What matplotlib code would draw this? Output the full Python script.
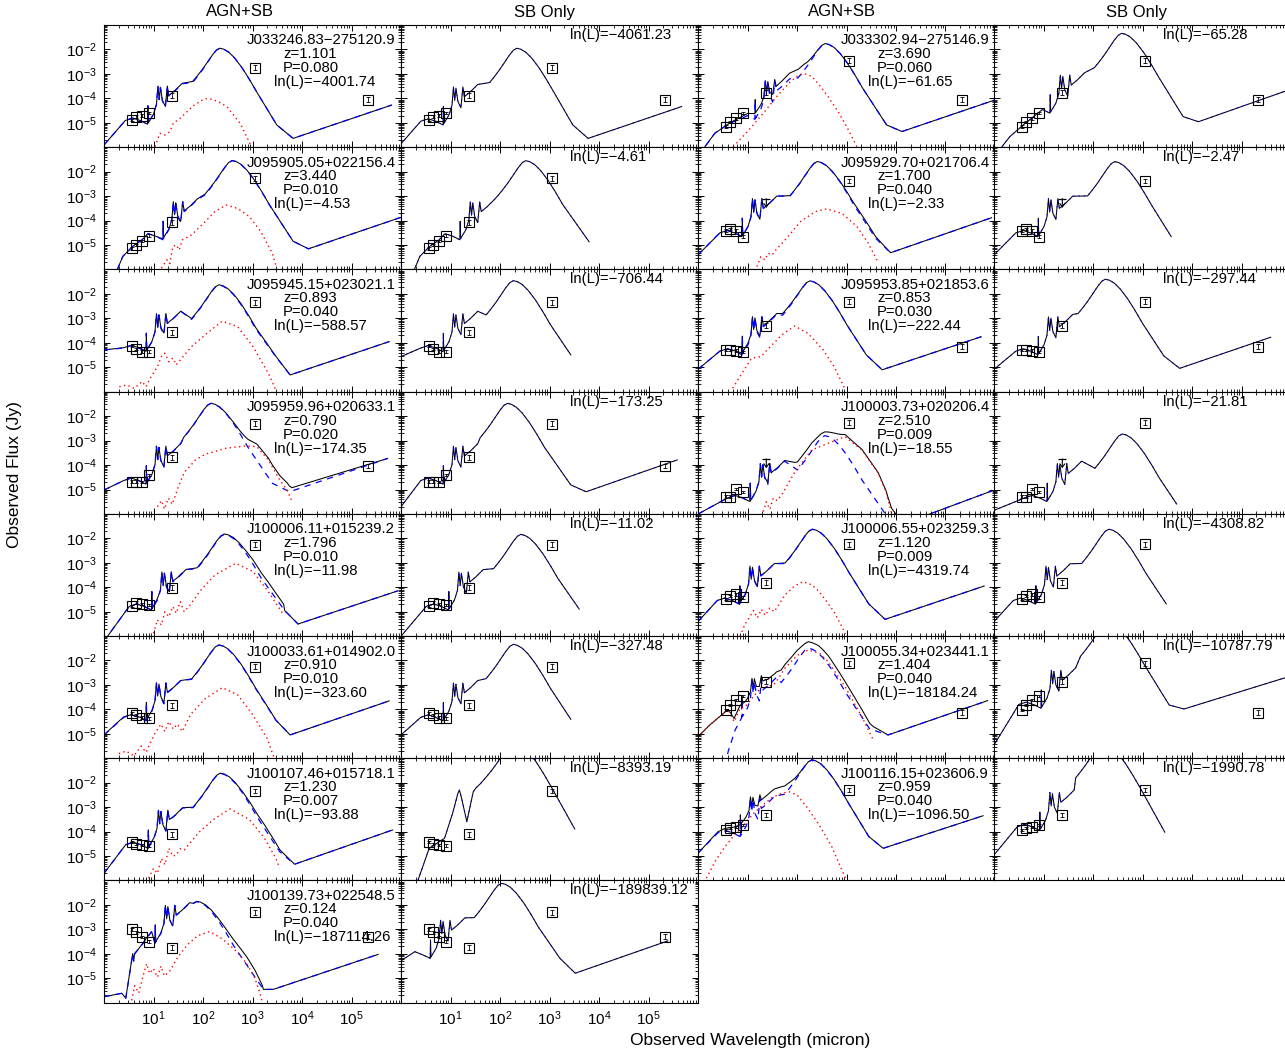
import numpy as np
import matplotlib.pyplot as plt
from matplotlib.ticker import FixedLocator, LogLocator

plt.rcParams['font.family'] = ['Liberation Sans', 'DejaVu Sans']
plt.rcParams['mathtext.fontset'] = 'custom'
plt.rcParams['mathtext.rm'] = 'Liberation Sans'
plt.rcParams['axes.linewidth'] = 0.8

# sources, in panel order (left pair of columns row by row, then right pair)
NAMES = ["J033246.83−275120.9", "J033302.94−275146.9", "J095905.05+022156.4",
         "J095929.70+021706.4", "J095945.15+023021.1", "J095953.85+021853.6",
         "J095959.96+020633.1", "J100003.73+020206.4", "J100006.11+015239.2",
         "J100006.55+023259.3", "J100033.61+014902.0", "J100055.34+023441.1",
         "J100107.46+015718.1", "J100116.15+023606.9", "J100139.73+022548.5"]
Z = [1.101, 3.690, 3.440, 1.700, 0.893, 0.853, 0.790, 2.510,
     1.796, 1.120, 0.910, 1.404, 1.230, 0.959, 0.124]
PROB = [0.080, 0.060, 0.010, 0.040, 0.040, 0.030, 0.020, 0.009,
        0.010, 0.009, 0.010, 0.040, 0.007, 0.040, 0.040]
LNL_AGN = [-4001.74, -61.65, -4.53, -2.33, -588.57, -222.44, -174.35, -18.55,
           -11.98, -4319.74, -323.60, -18184.24, -93.88, -1096.50, -187114.26]
LNL_SB = [-4061.23, -65.28, -4.61, -2.47, -706.44, -297.44, -173.25, -21.81,
          -11.02, -4308.82, -327.48, -10787.79, -8393.19, -1990.78, -189839.12]

# photometry: wavelengths in micron, fluxes as log10(Jy)
IRAC_WL = [3.6, 4.5, 5.8, 8.0]
MIPS_WL = 24.0
MM_WL = 1100.0
RADIO_WL = 2.14e5
IRAC_LOGF = [[-4.88, -4.74, -4.70, -4.60], [-5.15, -4.95, -4.81, -4.60],
             [-5.13, -5.00, -4.83, -4.61], [-4.41, -4.35, -4.41, -4.65],
             [-4.13, -4.25, -4.36, -4.36], [-4.29, -4.29, -4.32, -4.38],
             [-4.68, -4.68, -4.70, -4.40], [-5.29, -5.29, -4.98, -5.11],
             [-4.76, -4.63, -4.69, -4.72], [-4.49, -4.36, -4.29, -4.41],
             [-4.16, -4.22, -4.33, -4.36], [-4.02, -3.82, -3.61, -3.44],
             [-4.43, -4.50, -4.54, -4.57], [-3.93, -3.86, -3.80, -3.73],
             [-3.00, -3.12, -3.30, -3.50]]
MIPS_LOGF = [-3.88, -3.76, -4.07, -3.10, -3.57, -3.30, -3.68, -3.75,
             -4.02, -3.81, -3.82, -2.86, -4.10, -3.32, -3.75]
MIPS_UPLIM = [False, False, False, True, False, False, False, True,
              False, False, False, False, False, False, False]
MM_LOGF = [-2.74, -2.46, -2.27, -2.38, -2.34, -2.32, -2.32, -2.27,
           -2.27, -2.25, -2.25, -2.11, -2.34, -2.30, -2.30]
RADIO_LOGF = [-4.06, -4.06, None, None, None, -4.16, -4.04, None,
              None, None, None, -4.13, None, None, -3.30]

# starburst template pieces (log10 offsets): stellar bump + PAH lines
# relative to the 9.7um trough, far-IR hump relative to its peak
NIR_DX = [-0.45, -0.30, -0.15, 0.0, 0.006, 0.014, 0.12, 0.18, 0.21, 0.235,
          0.26, 0.30, 0.36, 0.40, 0.43, 0.55, 0.70]
NIR_DY = [0.15, 0.25, 0.15, 0.0, 0.75, 0.05, 0.41, 0.80, 1.55, 1.00,
          1.50, 0.95, 0.70, 1.55, 1.15, 1.35, 1.65]
FIR_DX = [-0.55, -0.45, -0.35, -0.25, -0.15, -0.07, 0.0, 0.08, 0.18, 0.30,
          0.45, 0.60, 0.75]
FIR_DY = [-1.40, -1.15, -0.88, -0.58, -0.28, -0.08, 0.0, -0.04, -0.16, -0.40,
          -0.80, -1.28, -1.80]

# starburst component of the AGN+SB fits: (log lam, log F) points
SBA_LEFT = [[(0, -5.9)],
            [(0, -6.3), (0.14, -5.97), (0.34, -5.42), (0.61, -5.05), (0.95, -4.75)],
            [(0.2, -6.5), (0.27, -5.99), (0.38, -5.46), (0.58, -5.05), (0.77, -4.78)],
            [(0, -5.4)], [(0, -4.29)],
            [(0, -5.08)], [(0, -5.02)], [(0, -6.0)], [(0, -6.2)], [(0, -5.4)],
            [(0, -5.04)], [(0.55, -6.3), (0.61, -5.71), (0.75, -4.84)],
            [(0, -5.7)], [(0, -4.88)],
            [(0, -5.75), (0.36, -5.61), (0.44, -5.81), (0.58, -4.0), (0.6, -4.3),
             (0.62, -4.0), (0.79, -3.57), (0.96, -3.1)]]
SBA_TROUGH = [(0.88, -5.05), (1.15, -4.85), (1.19, -4.78), (0.89, -4.65),
              (0.85, -4.36), (0.89, -4.49), (0.85, -4.78), (1.05, -5.49),
              (0.96, -4.93), (0.84, -4.69), (0.85, -4.47), (0.88, -4.35),
              (0.89, -4.68), (0.85, -4.20), (1.03, -3.57)]
SBA_PEAK = [(2.34, -1.95), (2.57, -1.76), (2.59, -1.55), (2.41, -1.59),
            (2.32, -1.64), (2.26, -1.47), (2.16, -1.48), (2.56, -2.80),
            (2.43, -1.84), (2.31, -1.63), (2.32, -1.37), (2.23, -1.50),
            (2.35, -1.62), (2.30, -1.07), (1.87, -1.87)]
SBA_FALL = [[(3.49, -5.08), (3.82, -5.63), (5.81, -4.27)],
            [(3.81, -5.08), (4.12, -5.35), (6.0, -4.06)],
            [(3.82, -4.84), (4.13, -5.15), (5.99, -3.87)],
            [(3.59, -4.72), (3.89, -5.31), (5.93, -3.88)],
            [(3.47, -4.56), (3.76, -5.31), (5.76, -3.95)],
            [(3.40, -4.49), (3.72, -5.10), (5.72, -3.75)],
            [(3.40, -4.74), (3.75, -5.09), (5.73, -3.73)],
            [(3.82, -6.1), (4.15, -6.4), (5.93, -5.06)],
            [(3.65, -4.95), (3.92, -5.50), (5.93, -4.15)],
            [(3.45, -4.68), (3.78, -5.31), (5.78, -3.95)],
            [(3.47, -4.43), (3.76, -5.04), (5.76, -3.65)],
            [(3.47, -4.80), (3.84, -5.04), (5.85, -3.64)],
            [(3.55, -4.82), (3.85, -5.33), (5.83, -3.93)],
            [(3.45, -4.20), (3.74, -4.68), (5.76, -3.35)],
            [(3.22, -5.45), (3.42, -5.45), (5.54, -4.02)]]

# starburst-only fits
SBO_LEFT = [[(0, -5.85)],
            [(0.05, -6.3), (0.16, -5.97), (0.32, -5.56), (0.59, -5.08), (0.93, -4.53)],
            [(0.2, -6.5), (0.27, -5.99), (0.38, -5.46), (0.58, -5.05), (0.77, -4.78)],
            [(0, -5.4)], [(0, -4.56)],
            [(0, -5.08)], [(0, -5.7)], [(0, -5.85)], [(0, -6.0)], [(0, -5.4)],
            [(0, -5.04)], [(0, -5.45)],
            [(0.25, -6.6), (0.34, -6.0), (0.57, -4.68), (0.88, -4.27), (1.05, -3.2),
             (1.15, -2.43), (1.18, -2.3), (1.22, -2.6), (1.33, -3.59), (1.46, -2.37),
             (1.52, -2.2), (1.6, -2.05)],
            [(0, -4.95)], [(0, -4.28), (0.28, -3.91), (0.45, -4.05)]]
SBO_TROUGH = [(0.85, -5.08), (1.13, -4.60), (1.19, -4.78), (0.89, -4.65),
              (0.85, -4.36), (0.89, -4.49), (0.85, -4.78), (1.07, -5.49),
              (0.96, -4.93), (0.84, -4.69), (0.85, -4.47), (0.95, -3.95),
              None, (0.92, -3.95), (0.59, -4.18)]
SBO_PEAK = [(2.34, -1.95), (2.58, -1.34), (2.52, -1.55), (2.44, -1.59),
            (2.27, -1.46), (2.25, -1.40), (2.15, -1.48), (2.59, -2.73),
            (2.42, -1.84), (2.32, -1.63), (2.27, -1.34), (2.30, -0.42),
            (2.28, -0.35), (2.20, -0.40), (2.03, -1.12)]
SBO_FALL = [[(3.47, -5.08), (3.78, -5.63), (5.67, -4.33)],
            [(3.82, -4.74), (4.13, -4.95), (5.97, -3.64)],
            [(3.80, -4.86)], [(3.58, -4.65)], [(3.43, -4.49)],
            [(3.43, -4.53), (3.75, -5.04), (5.59, -3.77)],
            [(3.43, -4.81), (3.74, -5.09), (5.58, -3.79)],
            [(3.69, -5.59)], [(3.60, -4.89)], [(3.48, -4.68)], [(3.43, -4.40)],
            [(3.54, -3.82), (3.84, -3.98), (5.97, -2.65)],
            [(3.51, -3.89)], [(3.45, -4.02)],
            [(3.21, -4.18), (3.52, -4.79), (5.39, -3.47)]]

# AGN component of the AGN+SB fits (log lam, log F)
AGN = [
    [(1.03, -5.97), (1.13, -5.42), (1.23, -5.49), (1.33, -5.36), (1.40, -5.01), (1.54, -4.81),
     (1.8, -4.3), (2.0, -4.05), (2.11, -3.99), (2.3, -4.12), (2.48, -4.33), (2.75, -5.01),
     (2.98, -5.97)],
    [(0.71, -5.97), (1.0, -5.35), (1.3, -4.65), (1.6, -3.9), (1.85, -3.35), (2.0, -3.1),
     (2.13, -2.97), (2.3, -3.1), (2.45, -3.45), (2.63, -3.93), (2.85, -4.6), (3.04, -5.29),
     (3.21, -5.97)],
    [(1.16, -5.94), (1.27, -5.60), (1.33, -5.75), (1.39, -5.06), (1.46, -4.99), (1.52, -5.2),
     (1.58, -4.79), (1.77, -4.58), (2.01, -4.11), (2.24, -3.63), (2.47, -3.36), (2.70, -3.50),
     (2.94, -3.84), (3.17, -4.45), (3.40, -5.33), (3.47, -5.81)],
    [(1.19, -5.88), (1.27, -5.47), (1.35, -5.60), (1.42, -5.33), (1.50, -5.40), (1.57, -5.20),
     (1.76, -4.79), (2.07, -4.04), (2.37, -3.63), (2.60, -3.52), (2.91, -3.70), (3.21, -4.24),
     (3.44, -4.92), (3.63, -5.67)],
    [(0.31, -5.79), (0.46, -5.72), (0.61, -5.86), (0.77, -5.58), (0.85, -5.79), (0.93, -5.45),
     (1.08, -4.97), (1.16, -4.56), (1.23, -4.42), (1.31, -4.77), (1.39, -4.62), (1.46, -4.90),
     (1.54, -4.70), (1.77, -4.15), (2.08, -3.61), (2.39, -3.11), (2.70, -3.34), (3.01, -4.15),
     (3.32, -5.24), (3.47, -5.92)],
    [(0.70, -5.85), (0.89, -5.24), (1.08, -4.63), (1.27, -4.56), (1.46, -4.16), (1.69, -3.68),
     (1.95, -3.31), (2.22, -3.61), (2.53, -4.29), (2.75, -4.97), (2.98, -5.92)],
    [(1.08, -5.70), (1.16, -5.45), (1.22, -5.8), (1.30, -5.35), (1.38, -5.6), (1.50, -4.9),
     (1.62, -4.3), (1.85, -3.79), (2.05, -3.55), (2.24, -3.45), (2.47, -3.31), (2.86, -3.22),
     (3.09, -3.25), (3.32, -3.79), (3.55, -4.61), (3.70, -5.02), (3.80, -5.5)],
    [(1.32, -5.9), (1.38, -5.5), (1.45, -5.8), (1.52, -5.35), (1.60, -5.45), (1.69, -5.22),
     (1.96, -4.27), (2.30, -3.38), (2.63, -3.11), (2.97, -2.84), (3.31, -3.38), (3.64, -4.33),
     (3.80, -5.1), (3.91, -5.97)],
    [(1.0, -5.88), (1.08, -5.33), (1.16, -5.54), (1.23, -5.0), (1.31, -5.2), (1.39, -4.79),
     (1.46, -5.06), (1.54, -4.59), (1.62, -5.0), (1.74, -4.72), (1.93, -4.18), (2.24, -3.50),
     (2.66, -3.02), (3.01, -3.36), (3.32, -4.18), (3.63, -5.13)],
    [(0.85, -6.0), (0.95, -5.5), (1.05, -5.2), (1.12, -4.95), (1.2, -5.25), (1.28, -4.9),
     (1.36, -5.15), (1.45, -4.85), (1.54, -5.0), (1.76, -4.31), (1.95, -3.95), (2.12, -3.77),
     (2.3, -3.9), (2.45, -4.18), (2.75, -5.0), (2.98, -5.9)],
    [(0.3, -5.8), (0.45, -5.7), (0.6, -5.9), (0.75, -5.5), (0.85, -5.75), (0.95, -5.3),
     (1.05, -4.9), (1.15, -4.6), (1.23, -4.9), (1.31, -4.5), (1.40, -4.8), (1.48, -4.6),
     (1.58, -4.9), (1.75, -4.2), (2.05, -3.55), (2.39, -3.11), (2.7, -3.4), (3.0, -4.2),
     (3.3, -5.2), (3.44, -6.0)],
    [(0.0, -5.11), (0.24, -4.63), (0.48, -4.22), (0.61, -4.0), (0.73, -4.5), (0.85, -3.95),
     (0.95, -3.89), (1.15, -3.4), (1.29, -3.07), (1.4, -3.1), (1.56, -2.93), (1.76, -2.3),
     (2.0, -1.8), (2.23, -1.57), (2.45, -1.7), (2.63, -2.05), (2.97, -3.07), (3.31, -4.29),
     (3.54, -5.24)],
    [(0.90, -5.9), (1.0, -5.5), (1.08, -5.7), (1.16, -5.1), (1.23, -5.35), (1.31, -4.68),
     (1.39, -5.0), (1.46, -4.95), (1.54, -4.7), (1.62, -4.75), (1.93, -4.0), (2.24, -3.46),
     (2.55, -3.07), (2.94, -3.51), (3.24, -4.26), (3.47, -5.08), (3.55, -5.49)],
    [(0.17, -5.9), (0.35, -5.2), (0.55, -4.6), (0.75, -4.1), (0.93, -3.73), (1.1, -3.3),
     (1.31, -2.91), (1.5, -2.6), (1.70, -2.43), (1.84, -2.37), (2.0, -2.5), (2.2, -3.0),
     (2.45, -3.73), (2.7, -4.6), (2.98, -5.9)],
    [(0.56, -5.9), (0.62, -5.3), (0.7, -5.6), (0.79, -4.9), (0.86, -4.4), (0.92, -4.8),
     (1.0, -4.6), (1.08, -4.95), (1.15, -4.5), (1.22, -4.9), (1.33, -4.7), (1.5, -4.1),
     (1.7, -3.6), (1.9, -3.25), (2.14, -3.09), (2.4, -3.4), (2.65, -3.85), (2.88, -4.38),
     (3.05, -5.0), (3.15, -5.6), (3.2, -6.0)],
]


def sb_curve(left, trough, peak, fall):
    x = [p[0] for p in left]
    y = [p[1] for p in left]
    if trough is not None:
        for dx, dy in zip(NIR_DX, NIR_DY):
            if trough[0] + dx > x[-1]:
                x.append(trough[0] + dx)
                y.append(trough[1] + dy)
    for dx, dy in zip(FIR_DX, FIR_DY):
        if x[-1] < peak[0] + dx < fall[0][0]:
            x.append(peak[0] + dx)
            y.append(peak[1] + dy)
    for p in fall:
        x.append(p[0])
        y.append(p[1])
    return np.array(x), np.array(y)


def add_components(sx, sy, ax_, ay_):
    grid = np.union1d(sx, ax_)
    s = np.interp(grid, sx, sy, left=-30, right=-30)
    a = np.interp(grid, ax_, ay_, left=-30, right=-30)
    return grid, np.log10(10 ** s + 10 ** a)


def draw_photometry(ax, i):
    xs = IRAC_WL + [MIPS_WL, MM_WL]
    ys = IRAC_LOGF[i] + [MIPS_LOGF[i], MM_LOGF[i]]
    if RADIO_LOGF[i] is not None:
        xs = xs + [RADIO_WL]
        ys = ys + [RADIO_LOGF[i]]
    for x, ly in zip(xs, ys):
        f = 10 ** ly
        if x == MIPS_WL and MIPS_UPLIM[i]:
            ax.plot([x], [f], marker='_', ms=6, mew=0.9, color='k')
            ax.annotate('', xy=(x, f * 10 ** -0.38), xytext=(x, f),
                        arrowprops=dict(arrowstyle='->,head_length=0.25,head_width=0.18',
                                        lw=0.8, color='k', shrinkA=0, shrinkB=0))
            continue
        err = 0.1 if x in (MM_WL, RADIO_WL, MIPS_WL) else 0.05
        ax.errorbar([x], [f], yerr=[[f - f * 10 ** -err], [f * 10 ** err - f]],
                    fmt='none', ecolor='k', elinewidth=0.6, capsize=1.4, capthick=0.6)
        ax.plot([x], [f], marker='s', ms=6.6, mfc='none', mec='k', mew=0.8)


def style_axis(ax, label_x, label_y):
    ax.set_xscale('log')
    ax.set_yscale('log')
    ax.set_xlim(1, 1e6)
    ax.set_ylim(10 ** -5.99, 0.1)
    ax.xaxis.set_major_locator(FixedLocator([1e1, 1e2, 1e3, 1e4, 1e5]))
    ax.xaxis.set_minor_locator(LogLocator(base=10, subs=np.arange(2, 10), numticks=30))
    ax.yaxis.set_major_locator(FixedLocator([1e-5, 1e-4, 1e-3, 1e-2]))
    ax.yaxis.set_minor_locator(LogLocator(base=10, subs=np.arange(2, 10), numticks=30))
    ax.tick_params(which='both', direction='in', top=True, right=True,
                   labelbottom=label_x, labelleft=label_y, labelsize=11)
    ax.tick_params(which='major', length=4.5, width=0.7, pad=5)
    ax.tick_params(which='minor', length=2.2, width=0.6)


def fmt(v):
    return f"{v:.2f}".replace('-', '−')


W, H = 1285, 1053
fig = plt.figure(figsize=(W / 100, H / 100), dpi=100)
COL_X = [104, 401, 698, 994]
PW, PH, TOP = 297, 122.2, 25

for i in range(15):
    row = i // 2
    c_agn = 2 * (i % 2)
    for col in (c_agn, c_agn + 1):
        ax = fig.add_axes([COL_X[col] / W, 1 - (TOP + PH * (row + 1)) / H, PW / W, PH / H])
        style_axis(ax, label_x=(row == 7), label_y=(col == 0))
        if col == c_agn:
            sx, sy = sb_curve(SBA_LEFT[i], SBA_TROUGH[i], SBA_PEAK[i], SBA_FALL[i])
            rx = np.array([p[0] for p in AGN[i]])
            ry = np.array([p[1] for p in AGN[i]])
            tx, ty = add_components(sx, sy, rx, ry)
            ax.plot(10 ** tx, 10 ** ty, color='k', lw=0.75)
            ax.plot(10 ** sx, 10 ** sy, color='#0000ff', lw=0.9, dashes=(5, 4.5))
            ax.plot(10 ** rx, 10 ** ry, color='red', lw=1.0, linestyle=(0, (1, 2.4)))
            ax.text(143 / PW, 1 - 15.5 / PH, NAMES[i], transform=ax.transAxes,
                    fontsize=10.7, ha='left', va='center')
            ax.text(179 / PW, 1 - 29 / PH, f"z={Z[i]:.3f}", transform=ax.transAxes,
                    fontsize=10.7, ha='left', va='center')
            ax.text(179 / PW, 1 - 43 / PH, f"P={PROB[i]:.3f}", transform=ax.transAxes,
                    fontsize=10.7, ha='left', va='center')
            ax.text(170 / PW, 1 - 57 / PH, f"ln(L)={fmt(LNL_AGN[i])}", transform=ax.transAxes,
                    fontsize=10.7, ha='left', va='center')
        else:
            sx, sy = sb_curve(SBO_LEFT[i], SBO_TROUGH[i], SBO_PEAK[i], SBO_FALL[i])
            ax.plot(10 ** sx, 10 ** sy, color='k', lw=0.75)
            ax.plot(10 ** sx, 10 ** sy, color='#0000ff', lw=0.7, dashes=(1.5, 4))
            ax.text(169 / PW, 1 - 10 / PH, f"ln(L)={fmt(LNL_SB[i])}", transform=ax.transAxes,
                    fontsize=10.7, ha='left', va='center')
        draw_photometry(ax, i)

for x, t in zip([240, 545, 842, 1136], ["AGN+SB", "SB Only", "AGN+SB", "SB Only"]):
    fig.text(x / W, 1 - 12 / H, t, fontsize=12, ha='center', va='center')
fig.text(15 / W, 1 - 475 / H, "Observed Flux (Jy)", rotation=90, fontsize=12.5,
         ha='center', va='center')
fig.text(750 / W, 1 - 1040 / H, "Observed Wavelength (micron)", fontsize=12.5,
         ha='center', va='center')

fig.savefig("out.png", dpi=100)
